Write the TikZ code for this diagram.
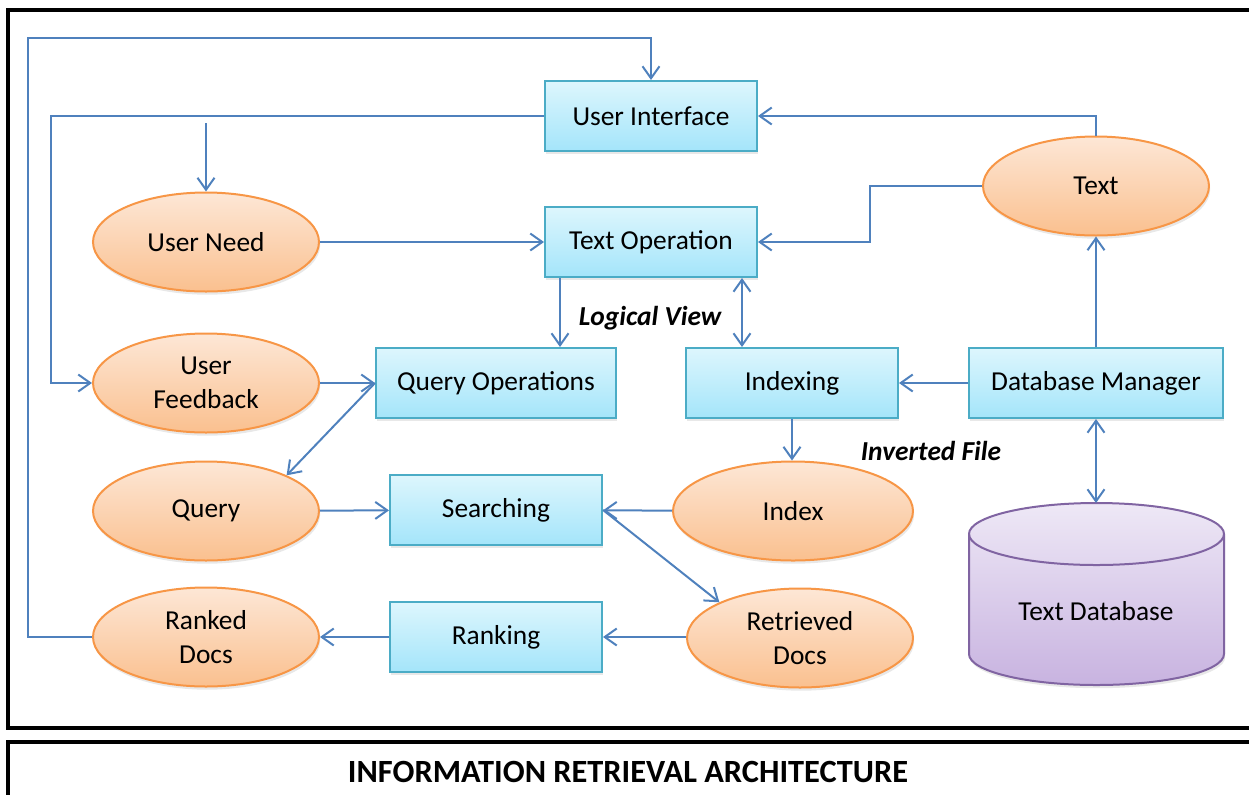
\documentclass[tikz,border=0pt]{standalone}
\usepackage{fontspec}
\setmainfont{Carlito}
\usetikzlibrary{arrows.meta,shapes.geometric,shadows}

\definecolor{flow}{HTML}{4F81BD}
\definecolor{boxline}{HTML}{4BACC6}
\definecolor{boxtop}{HTML}{DDF6FD}
\definecolor{boxbot}{HTML}{A4E5FA}
\definecolor{ovalline}{HTML}{F79646}
\definecolor{ovaltop}{HTML}{FDE7D6}
\definecolor{ovalbot}{HTML}{FAC08F}
\definecolor{dbline}{HTML}{8064A2}
\definecolor{dbhi}{HTML}{EEE8F6}
\definecolor{dblo}{HTML}{C8B3E0}

\begin{document}
\begin{tikzpicture}[x=0.5pt, y=-0.5pt,
    font=\fontsize{13.7}{17}\selectfont,
    lift/.style={drop shadow={opacity=0.18, shadow xshift=0.6pt, shadow yshift=-1.6pt}},
    proc/.style={rectangle, draw=boxline, line width=1pt, top color=boxtop, bottom color=boxbot,
        minimum width=106pt, minimum height=35pt, align=center, lift},
    oval/.style={ellipse, draw=ovalline, line width=1pt, top color=ovaltop, bottom color=ovalbot,
        minimum width=113pt, minimum height=49.5pt, inner sep=0pt, align=center, lift},
    link/.style={draw=flow, line width=1pt, -{Straight Barb[length=6pt,width=8.5pt]}},
    twoway/.style={link, {Straight Barb[length=6pt,width=8.5pt]}-{Straight Barb[length=6pt,width=8.5pt]}},
    tag/.style={font=\fontsize{13.7}{17}\selectfont\bfseries\itshape}]

    \useasboundingbox (0,0) rectangle (1249,794);
    \clip (0,0) rectangle (1249,794);

    % frames
    \draw[line width=2pt] (8,10) rectangle (1270,728);
    \draw[line width=2pt] (8,742) rectangle (1270,830);
    \node[font=\fontsize{16.2}{19}\selectfont\bfseries] (title) at (628,772) {INFORMATION RETRIEVAL ARCHITECTURE};

    % processes
    \node[proc] (ui) at (651,116) {User Interface};
    \node[proc] (textop) at (651,242) {Text Operation};
    \node[proc, minimum width=120pt] (queryop) at (496,383) {Query Operations};
    \node[proc] (indexing) at (792,383) {Indexing};
    \node[proc, minimum width=127pt] (dbman) at (1096,383) {Database Manager};
    \node[proc] (search) at (496,510) {Searching};
    \node[proc] (ranking) at (496,637) {Ranking};

    % data
    \node[oval] (need) at (206,242) {User Need};
    \node[oval] (feedback) at (206,383) {User\\Feedback};
    \node[oval] (query) at (206,511) {Query};
    \node[oval] (ranked) at (206,637) {Ranked\\Docs};
    \node[oval] (text) at (1096,186) {Text};
    \node[oval, minimum width=120pt] (index) at (793,511) {Index};
    \node[oval] (retrieved) at (800,638) {Retrieved\\Docs};

    % text database
    \path[draw=dbline, line width=1pt, top color=dbhi, bottom color=dblo, lift]
        (969,534) -- (969,654) arc[start angle=180, end angle=360, x radius=63.75pt, y radius=15.5pt]
        -- (1224,534) arc[start angle=0, end angle=180, x radius=63.75pt, y radius=15.5pt] -- cycle;
    \draw[dbline, line width=1pt] (969,534) arc[start angle=180, end angle=360, x radius=63.75pt, y radius=15.5pt];
    \node (textdb) at (1096,611) {Text Database};
    \coordinate (dbtop) at (1096,503);

    % feedback loops
    \draw[link] (ranked.west) -- (28,637) -- (28,38) -| (ui.north);
    \draw[link] (ui.west) -| (51,383) -- (feedback.west);
    \coordinate (needin) at (206,123);
    \draw[link] (needin) -- (need.north);
    \draw[link] (text.north) |- (ui.east);
    \draw[link] (text.west) -- (870,186) |- (textop.east);

    \draw[link] (need) -- (textop);
    \draw[link] ([xshift=-45.5pt]textop.south) -- ([xshift=-45.5pt]textop.south |- queryop.north);
    \draw[twoway] ([xshift=45.5pt]textop.south) -- ([xshift=45.5pt]textop.south |- indexing.north);
    \node[tag] (logical) at (650,318) {Logical View};

    \draw[link] (dbman) -- (indexing);
    \draw[link] (dbman) -- (text);
    \draw[twoway] (dbman.south) -- (dbtop);
    \draw[link] (indexing.south) -- (indexing.south |- index.north);
    \node[tag] (inverted) at (931,451) {Inverted File};

    \draw[link] (feedback) -- (queryop);
    \draw[link] (queryop.west) -- (query.north east);
    \draw[link] (query) -- (search);
    \draw[link] (index) -- (search);
    \draw[link] (search.east) -- (retrieved.north west);
    \draw[link] (retrieved.west |- ranking) -- (ranking.east);
    \draw[link] (ranking) -- (ranked);

\end{tikzpicture}
\end{document}
